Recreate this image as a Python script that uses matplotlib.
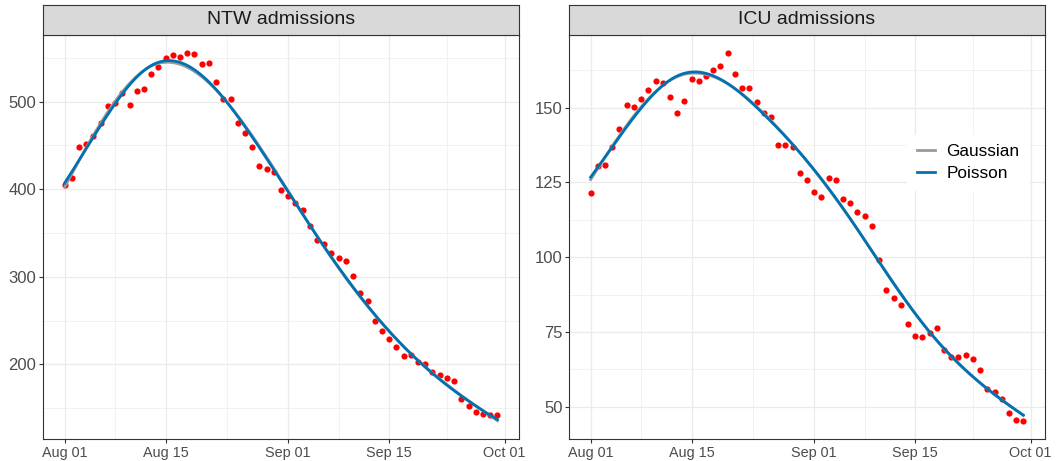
import numpy as np
import pandas as pd
import matplotlib
matplotlib.use("Agg")
import matplotlib.pyplot as plt
import matplotlib.dates as mdates

plt.rcParams['font.family'] = ['Liberation Sans', 'DejaVu Sans']

# daily admissions, Aug 01 .. Sep 30
dates = pd.date_range("2020-08-01", periods=61, freq="D")
ntw = [405, 413, 448, 451, 461, 476, 495, 498, 510, 496,
       512, 514, 532, 540, 550, 553, 551, 555, 554, 543,
       544, 522, 503, 503, 476, 464, 448, 427, 423, 420,
       399, 392, 384, 376, 358, 342, 337, 327, 322, 318,
       301, 282, 272, 250, 238, 229, 220, 210, 211, 203,
       201, 191, 188, 185, 181, 161, 153, 146, 143, 142, 142]
icu = [121.5, 130.4, 130.8, 136.7, 142.7, 150.7, 150.3, 152.8, 156.0, 159.0,
       158.3, 153.6, 148.1, 152.3, 159.4, 159.0, 160.6, 162.7, 164.0, 168.1,
       161.3, 156.6, 156.4, 151.9, 148.3, 146.8, 137.4, 137.4, 136.7, 128.2,
       125.9, 121.8, 120.1, 126.4, 125.7, 119.6, 118.1, 115.1, 113.6, 110.3,
       99.1, 89.0, 86.4, 84.0, 77.7, 73.8, 73.4, 74.6, 76.2, 68.9,
       66.6, 66.7, 67.4, 66.0, 62.2, 56.0, 55.0, 52.5, 47.9, 45.6, 45.4]
panels = [("NTW admissions", ntw, [200, 300, 400, 500]),
          ("ICU admissions", icu, [50, 75, 100, 125, 150])]

GAUSS_COL = "#999999"
POIS_COL = "#0072B2"


def ns_basis(t, knots):
    # natural cubic spline basis (intercept + linear + truncated terms)
    x = np.asarray(t, dtype=float)
    K = len(knots)

    def d(k):
        a = np.clip(x - knots[k], 0, None) ** 3
        b = np.clip(x - knots[-1], 0, None) ** 3
        return (a - b) / (knots[-1] - knots[k])

    cols = [np.ones_like(x), x]
    for k in range(K - 2):
        cols.append(d(k) - d(K - 2))
    return np.vstack(cols).T


KNOTS = np.linspace(0, 1, 6)


def fit_gaussian(t, y, tt):
    X = ns_basis(t / 60, KNOTS)
    b = np.linalg.lstsq(X, y, rcond=None)[0]
    return ns_basis(tt / 60, KNOTS) @ b


def fit_poisson(t, y, tt):
    # log link, IRLS
    X = ns_basis(t / 60, KNOTS)
    b = np.linalg.lstsq(X, np.log(y), rcond=None)[0]
    for _ in range(50):
        eta = X @ b
        mu = np.exp(eta)
        z = eta + (y - mu) / mu
        XtW = X.T * mu
        b = np.linalg.solve(XtW @ X, XtW @ z)
    return np.exp(ns_basis(tt / 60, KNOTS) @ b)


t = np.arange(len(dates), dtype=float)
tt = np.linspace(0, t[-1], 300)
x0 = mdates.date2num(dates[0])
xs = mdates.date2num(dates)

fig = plt.figure(figsize=(10.6, 4.61), dpi=100)
lefts = [43 / 1060, 569 / 1060]
W = 476 / 1060
B = 22 / 461
H = 404 / 461

major_x = mdates.date2num(pd.to_datetime(["2020-08-01", "2020-08-15", "2020-09-01",
                                          "2020-09-15", "2020-10-01"]))
minor_x = (major_x[:-1] + major_x[1:]) / 2

for i, (title, vals, yticks) in enumerate(panels):
    y = np.array(vals, dtype=float)
    ax = fig.add_axes([lefts[i], B, W, H])
    g = fit_gaussian(t, y, tt)
    p = fit_poisson(t, y, tt)
    ax.scatter(xs, y, s=20, color="#FF0000", linewidths=0, zorder=3)
    ax.plot(x0 + tt, g, color=GAUSS_COL, lw=2.0, zorder=4, label="Gaussian")
    ax.plot(x0 + tt, p, color=POIS_COL, lw=2.0, zorder=5, label="Poisson")

    lo = min(y.min(), p.min(), g.min())
    hi = max(y.max(), p.max(), g.max())
    pad = (hi - lo) * 0.05
    ax.set_xlim(x0 - 3, x0 + 63)

    ax.set_xticks(major_x)
    ax.set_xticks(minor_x, minor=True)
    ax.xaxis.set_major_formatter(mdates.DateFormatter("%b %d"))
    ax.set_yticks(yticks)
    step = yticks[1] - yticks[0]
    ax.set_yticks(np.arange(yticks[0] - step / 2, yticks[-1] + step, step), minor=True)
    ax.set_ylim(lo - pad, hi + pad)

    ax.grid(which="major", color="#EBEBEB", lw=0.9)
    ax.grid(which="minor", color="#EBEBEB", lw=0.45)
    ax.set_axisbelow(True)
    ax.tick_params(which="major", length=2.75, width=0.8, color="#333333",
                   labelcolor="#4D4D4D", pad=2)
    ax.tick_params(axis="x", which="major", labelsize=10.4)
    ax.tick_params(axis="y", which="major", labelsize=12)
    ax.tick_params(which="minor", length=0)
    for sp in ax.spines.values():
        sp.set_color("#333333")
        sp.set_linewidth(0.8)

    strip = fig.add_axes([lefts[i], (461 - 35) / 461, W, 30 / 461])
    strip.set_facecolor("#D9D9D9")
    strip.set_xticks([])
    strip.set_yticks([])
    for sp in strip.spines.values():
        sp.set_color("#333333")
        sp.set_linewidth(0.8)
    strip.text(0.5, 0.5, title, ha="center", va="center", fontsize=14,
               color="#1A1A1A", transform=strip.transAxes)

    if i == 1:
        leg = ax.legend(loc="upper left", bbox_to_anchor=(0.711, 0.753),
                        borderaxespad=0, frameon=True, fontsize=12.4,
                        handlelength=1.05, handletextpad=0.65, labelspacing=0.4,
                        borderpad=0.55, fancybox=False)
        leg.get_frame().set_facecolor("white")
        leg.get_frame().set_edgecolor("none")
        leg.get_frame().set_alpha(1)

fig.savefig("out.png", dpi=100)
